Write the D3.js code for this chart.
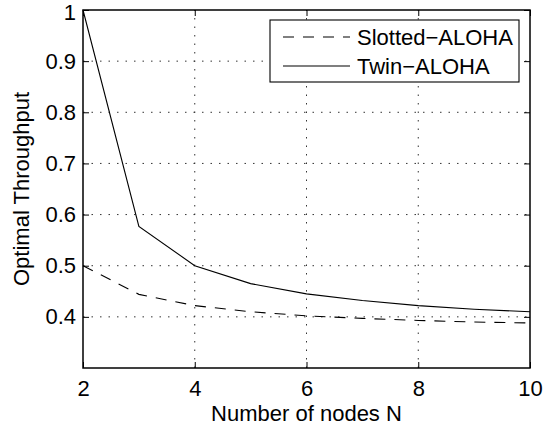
<!DOCTYPE html>
<html>
<head>
<meta charset="utf-8">
<script src="https://cdn.jsdelivr.net/npm/d3@7"></script>
<style>
  body { margin: 0; background: #fff; }
  text { font-family: "Liberation Sans", Arial, sans-serif; fill: #000; }
</style>
</head>
<body>
<div id="chart"></div>
<script>
const nodes = [2, 3, 4, 5, 6, 7, 8, 9, 10];
const slotted = [0.5, 0.444, 0.422, 0.41, 0.402, 0.397, 0.393, 0.39, 0.388];
const twin = [1.0, 0.577, 0.5, 0.465, 0.445, 0.432, 0.422, 0.415, 0.41];
const xTicks = [2, 4, 6, 8, 10];
const yTicks = [0.4, 0.5, 0.6, 0.7, 0.8, 0.9, 1];
const seriesNames = ["Slotted\u2212ALOHA", "Twin\u2212ALOHA"];

const width = 552, height = 426;
const m = {left: 83, right: 22, top: 10, bottom: 58};
const fs = 22;

const svg = d3.select("#chart").append("svg")
  .attr("width", width).attr("height", height);

const x = d3.scaleLinear().domain([2, 10]).range([m.left, width - m.right]);
const y = d3.scaleLinear().domain([0.3, 1]).range([height - m.bottom, m.top]);
const x0 = x.range()[0], x1 = x.range()[1], y0 = y.range()[0], y1 = y.range()[1];

// grille pointillée
const grid = svg.append("g").attr("stroke", "#333").attr("stroke-width", 1)
  .attr("stroke-dasharray", "1.5,7");
grid.selectAll(".gx").data(xTicks.filter(d => d > 2 && d < 10)).join("line")
  .attr("x1", d => x(d)).attr("x2", d => x(d)).attr("y1", y0).attr("y2", y1);
grid.selectAll(".gy").data(yTicks.filter(d => d < 1)).join("line")
  .attr("y1", d => y(d)).attr("y2", d => y(d)).attr("x1", x0).attr("x2", x1);

// courbes
const line = (vals) => d3.line().x((d, i) => x(nodes[i])).y(d => y(d))(vals);
svg.append("path").attr("d", line(slotted)).attr("fill", "none")
  .attr("stroke", "#000").attr("stroke-width", 1.1).attr("stroke-dasharray", "11,9");
svg.append("path").attr("d", line(twin)).attr("fill", "none")
  .attr("stroke", "#000").attr("stroke-width", 1.1);

// axes (ticks vers l'intérieur, sur les 4 côtés)
const tk = 6;
svg.append("g").attr("transform", `translate(0,${y0})`)
  .call(d3.axisBottom(x).tickValues(xTicks).tickSizeInner(-tk).tickSizeOuter(0).tickPadding(12))
  .call(g => g.select(".domain").remove())
  .call(g => g.selectAll("text").attr("font-size", fs).attr("font-family", null));
svg.append("g").attr("transform", `translate(0,${y1})`)
  .call(d3.axisTop(x).tickValues(xTicks).tickSizeInner(-tk).tickSizeOuter(0).tickFormat(""))
  .call(g => g.select(".domain").remove());
svg.append("g").attr("transform", `translate(${x0},0)`)
  .call(d3.axisLeft(y).tickValues(yTicks).tickSizeInner(-tk).tickSizeOuter(0).tickPadding(7)
    .tickFormat(d => d === 1 ? "1" : d3.format(".1f")(d)))
  .call(g => g.select(".domain").remove())
  .call(g => g.selectAll("text").attr("font-size", fs).attr("font-family", null)
    .filter(d => d === 1).attr("dy", "0.42em"));
svg.append("g").attr("transform", `translate(${x1},0)`)
  .call(d3.axisRight(y).tickValues(yTicks).tickSizeInner(-tk).tickSizeOuter(0).tickFormat(""))
  .call(g => g.select(".domain").remove());
svg.selectAll(".tick line").attr("stroke", "#000");

svg.append("rect").attr("x", x0).attr("y", y1).attr("width", x1 - x0).attr("height", y0 - y1)
  .attr("fill", "none").attr("stroke", "#000").attr("stroke-width", 1.5);

// titres des axes
svg.append("text").attr("x", (x0 + x1) / 2).attr("y", 421)
  .attr("text-anchor", "middle").attr("font-size", fs).text("Number of nodes N");
svg.append("text").attr("transform", `translate(21,${(y0 + y1) / 2}) rotate(-90)`)
  .attr("text-anchor", "middle").attr("dy", "0.35em").attr("font-size", fs).text("Optimal Throughput");

// légende
const lg = svg.append("g");
lg.append("rect").attr("x", 270).attr("y", 20).attr("width", 249).attr("height", 62)
  .attr("fill", "#fff").attr("stroke", "#000").attr("stroke-width", 1.1);
const rows = [37, 66];
seriesNames.forEach((name, i) => {
  lg.append("line").attr("x1", 283).attr("x2", 350).attr("y1", rows[i]).attr("y2", rows[i])
    .attr("stroke", "#000").attr("stroke-width", 1.1)
    .attr("stroke-dasharray", i === 0 ? "11,9" : null);
  lg.append("text").attr("x", 357).attr("y", rows[i]).attr("dy", "0.35em")
    .attr("font-size", fs).text(name);
});
</script>
</body>
</html>
